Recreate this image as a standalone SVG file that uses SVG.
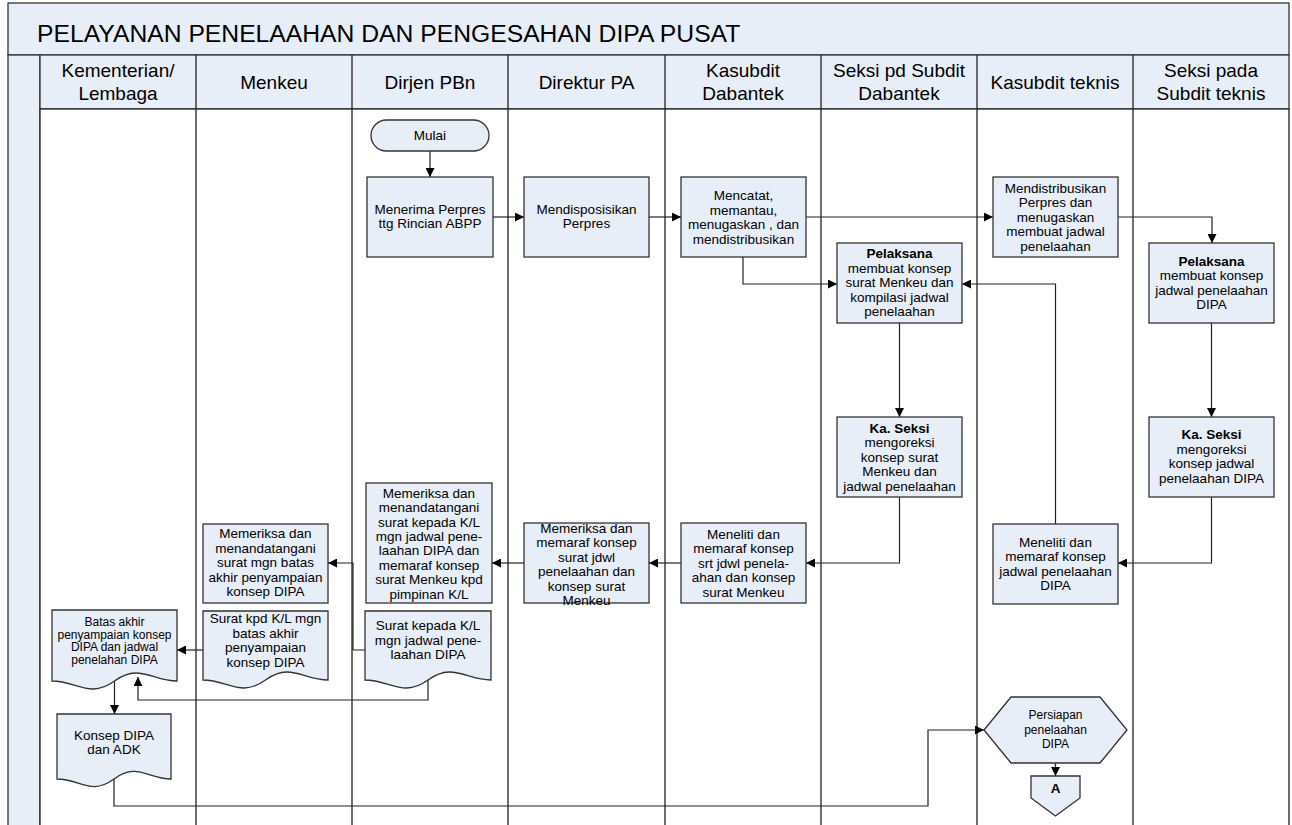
<svg xmlns="http://www.w3.org/2000/svg" width="1292" height="825" viewBox="0 0 1292 825">
<style>
.bg{fill:#E8EEF7;stroke:#333;stroke-width:1.3}
.ln{stroke:#222;stroke-width:1.3;fill:none}
.box{fill:#E8EEF7;stroke:#333;stroke-width:1.3}
.t{font-family:"Liberation Sans",Arial,sans-serif;font-size:13.5px;fill:#000;text-anchor:middle}
.s{font-size:12px}
.h{font-family:"Liberation Sans",Arial,sans-serif;font-size:19px;fill:#000;text-anchor:middle}
.b{font-weight:bold}
.c{fill:none;stroke:#222;stroke-width:1.2;marker-end:url(#arr)}
</style>
<defs>
<marker id="arr" viewBox="0 0 10 10" refX="10" refY="5" markerWidth="9" markerHeight="9" markerUnits="userSpaceOnUse" orient="auto"><path d="M0,0 L10,5 L0,10 z" fill="#000"/></marker>
</defs>
<rect width="1292" height="825" fill="#fff"/>
<g id="frame">
<rect class="bg" x="8" y="3" width="1281" height="52"/>
<text x="37" y="42" style="font-family:'Liberation Sans',Arial,sans-serif;font-size:24.7px;fill:#000">PELAYANAN PENELAAHAN DAN PENGESAHAN DIPA PUSAT</text>
<rect class="bg" x="8" y="55" width="32" height="780"/>
<rect class="bg" x="40" y="55" width="1249" height="54"/>
<rect x="40" y="109" width="1249" height="720" fill="#fff" stroke="#222" stroke-width="1.3"/>
<path class="ln" d="M196,55V825M352,55V825M508,55V825M665,55V825M821,55V825M977,55V825M1133,55V825"/>
<text class="h"><tspan x="118" y="77">Kementerian/</tspan><tspan x="118" y="100">Lembaga</tspan></text>
<text class="h" x="274" y="89">Menkeu</text>
<text class="h" x="430" y="89">Dirjen PBn</text>
<text class="h" x="586.5" y="89">Direktur PA</text>
<text class="h"><tspan x="743" y="77">Kasubdit</tspan><tspan x="743" y="100">Dabantek</tspan></text>
<text class="h"><tspan x="899" y="77">Seksi pd Subdit</tspan><tspan x="899" y="100">Dabantek</tspan></text>
<text class="h" x="1055" y="89">Kasubdit teknis</text>
<text class="h"><tspan x="1211" y="77">Seksi pada</tspan><tspan x="1211" y="100">Subdit teknis</tspan></text>
</g>
<g id="connectors">
<path class="c" d="M430,151V177"/>
<path class="c" d="M493,217H524"/>
<path class="c" d="M649,217H681"/>
<path class="c" d="M806,217H993"/>
<path class="c" d="M743,257V284H837"/>
<path class="c" d="M1118,217H1212V243"/>
<path class="c" d="M899.5,323V417"/>
<path class="c" d="M1211.5,323V417"/>
<path class="c" d="M899.5,497V563H806"/>
<path class="c" d="M1211.5,497V563H1118"/>
<path class="c" d="M1055.5,524V284H962"/>
<path class="c" d="M681,563H649"/>
<path class="c" d="M524,563H492"/>
<path class="c" d="M365,650H353V563H328"/>
<path class="c" d="M203,650H177"/>
<path class="c" d="M428,680V700H138V677"/>
<path class="c" d="M114.5,681V714"/>
<path class="c" d="M114,779V806H928V730H984"/>
<path class="c" d="M1055.5,763V776"/>
</g>
<g id="mulai">
<rect class="box" x="371" y="120" width="118" height="31" rx="15.5"/>
<text class="t" x="430" y="140">Mulai</text>
</g>
<g id="menerima">
<rect class="box" x="367" y="177" width="126" height="80"/>
<text class="t"><tspan x="430" y="213.5">Menerima Perpres</tspan><tspan x="430" y="228">ttg Rincian ABPP</tspan></text>
</g>
<g id="mendisposisikan">
<rect class="box" x="524" y="177" width="125" height="80"/>
<text class="t"><tspan x="586.5" y="213.5">Mendisposisikan</tspan><tspan x="586.5" y="228">Perpres</tspan></text>
</g>
<g id="mencatat">
<rect class="box" x="681" y="177" width="125" height="80"/>
<text class="t"><tspan x="743.5" y="200">Mencatat,</tspan><tspan x="743.5" y="214.5">memantau,</tspan><tspan x="743.5" y="229">menugaskan , dan</tspan><tspan x="743.5" y="243.5">mendistribusikan</tspan></text>
</g>
<g id="mendistribusikan">
<rect class="box" x="993" y="177" width="125" height="80"/>
<text class="t"><tspan x="1055.5" y="192.7">Mendistribusikan</tspan><tspan x="1055.5" y="207.2">Perpres dan</tspan><tspan x="1055.5" y="221.7">menugaskan</tspan><tspan x="1055.5" y="236.2">membuat jadwal</tspan><tspan x="1055.5" y="250.7">penelaahan</tspan></text>
</g>
<g id="pelaksana1">
<rect class="box" x="837" y="243" width="125" height="80"/>
<text class="t"><tspan class="b" x="899.5" y="258">Pelaksana</tspan><tspan x="899.5" y="272.5">membuat konsep</tspan><tspan x="899.5" y="287">surat Menkeu dan</tspan><tspan x="899.5" y="301.5">kompilasi jadwal</tspan><tspan x="899.5" y="316">penelaahan</tspan></text>
</g>
<g id="pelaksana2">
<rect class="box" x="1149" y="243" width="125" height="80"/>
<text class="t"><tspan class="b" x="1211.5" y="265.5">Pelaksana</tspan><tspan x="1211.5" y="280">membuat konsep</tspan><tspan x="1211.5" y="294.5">jadwal penelaahan</tspan><tspan x="1211.5" y="309">DIPA</tspan></text>
</g>
<g id="kaseksi1">
<rect class="box" x="837" y="417" width="125" height="80"/>
<text class="t"><tspan class="b" x="899.5" y="432.5">Ka. Seksi</tspan><tspan x="899.5" y="447">mengoreksi</tspan><tspan x="899.5" y="461.5">konsep surat</tspan><tspan x="899.5" y="476">Menkeu dan</tspan><tspan x="899.5" y="490.5">jadwal penelaahan</tspan></text>
</g>
<g id="kaseksi2">
<rect class="box" x="1149" y="417" width="125" height="80"/>
<text class="t"><tspan class="b" x="1211.5" y="439">Ka. Seksi</tspan><tspan x="1211.5" y="453.5">mengoreksi</tspan><tspan x="1211.5" y="468">konsep jadwal</tspan><tspan x="1211.5" y="482.5">penelaahan DIPA</tspan></text>
</g>
<g id="meneliti2">
<rect class="box" x="993" y="524" width="125" height="80"/>
<text class="t"><tspan x="1055.5" y="546.5">Meneliti dan</tspan><tspan x="1055.5" y="561">memaraf konsep</tspan><tspan x="1055.5" y="575.5">jadwal penelaahan</tspan><tspan x="1055.5" y="590">DIPA</tspan></text>
</g>
<g id="meneliti1">
<rect class="box" x="681" y="523" width="125" height="80"/>
<text class="t"><tspan x="743.5" y="538.5">Meneliti dan</tspan><tspan x="743.5" y="553">memaraf konsep</tspan><tspan x="743.5" y="567.5">srt jdwl penela-</tspan><tspan x="743.5" y="582">ahan dan konsep</tspan><tspan x="743.5" y="596.5">surat Menkeu</tspan></text>
</g>
<g id="direktur">
<rect class="box" x="524" y="523" width="125" height="80"/>
<text class="t"><tspan x="586.5" y="532.5">Memeriksa dan</tspan><tspan x="586.5" y="547">memaraf konsep</tspan><tspan x="586.5" y="561.5">surat jdwl</tspan><tspan x="586.5" y="576">penelaahan dan</tspan><tspan x="586.5" y="590.5">konsep surat</tspan><tspan x="586.5" y="605">Menkeu</tspan></text>
</g>
<g id="dirjen2">
<rect class="box" x="366" y="483" width="126" height="120"/>
<text class="t"><tspan x="429" y="497.7">Memeriksa dan</tspan><tspan x="429" y="512.1">menandatangani</tspan><tspan x="429" y="526.5">surat kepada K/L</tspan><tspan x="429" y="540.9">mgn jadwal pene-</tspan><tspan x="429" y="555.3">laahan DIPA dan</tspan><tspan x="429" y="569.7">memaraf konsep</tspan><tspan x="429" y="584.1">surat Menkeu kpd</tspan><tspan x="429" y="598.5">pimpinan K/L</tspan></text>
</g>
<g id="menkeu">
<rect class="box" x="203" y="524" width="125" height="79"/>
<text class="t"><tspan x="265.5" y="538">Memeriksa dan</tspan><tspan x="265.5" y="552.5">menandatangani</tspan><tspan x="265.5" y="567">surat mgn batas</tspan><tspan x="265.5" y="581.5">akhir penyampaian</tspan><tspan x="265.5" y="596">konsep DIPA</tspan></text>
</g>
<g id="doc-menkeu">
<path class="box" d="M203,611H328V680C303,680 290.5,662 265.5,680C240.5,698 228,680 203,680Z"/>
<text class="t"><tspan x="265.5" y="623">Surat kpd K/L mgn</tspan><tspan x="265.5" y="637.5">batas akhir</tspan><tspan x="265.5" y="652">penyampaian</tspan><tspan x="265.5" y="666.5">konsep DIPA</tspan></text>
</g>
<g id="doc-dirjen">
<path class="box" d="M365,611H491V680C466,680 453,662 428,680C403,698 390,680 365,680Z"/>
<text class="t"><tspan x="428" y="630">Surat kepada K/L</tspan><tspan x="428" y="644.5">mgn jadwal pene-</tspan><tspan x="428" y="659">laahan DIPA</tspan></text>
</g>
<g id="doc-batas">
<path class="box" d="M52,610H177V681C152,681 139.5,663 114.5,681C89.5,699 77,681 52,681Z"/>
<text class="t s"><tspan x="114.5" y="626">Batas akhir</tspan><tspan x="114.5" y="638.5">penyampaian konsep</tspan><tspan x="114.5" y="651">DIPA dan jadwal</tspan><tspan x="114.5" y="663.5">penelahan DIPA</tspan></text>
</g>
<g id="doc-konsep">
<path class="box" d="M57,714H171V779C148,779 137,762 114,779C91,796 80,779 57,779Z"/>
<text class="t"><tspan x="114" y="740">Konsep DIPA</tspan><tspan x="114" y="754">dan ADK</tspan></text>
</g>
<g id="persiapan">
<polygon class="box" points="984,730 1011,697 1100,697 1127,730 1100,763 1011,763"/>
<text class="t s"><tspan x="1055.5" y="719">Persiapan</tspan><tspan x="1055.5" y="733.5">penelaahan</tspan><tspan x="1055.5" y="748">DIPA</tspan></text>
</g>
<g id="offpage-a">
<polygon class="box" points="1031,776 1080,776 1080,798 1055.5,816 1031,798"/>
<text class="t b" x="1055.5" y="793">A</text>
</g>
</svg>
